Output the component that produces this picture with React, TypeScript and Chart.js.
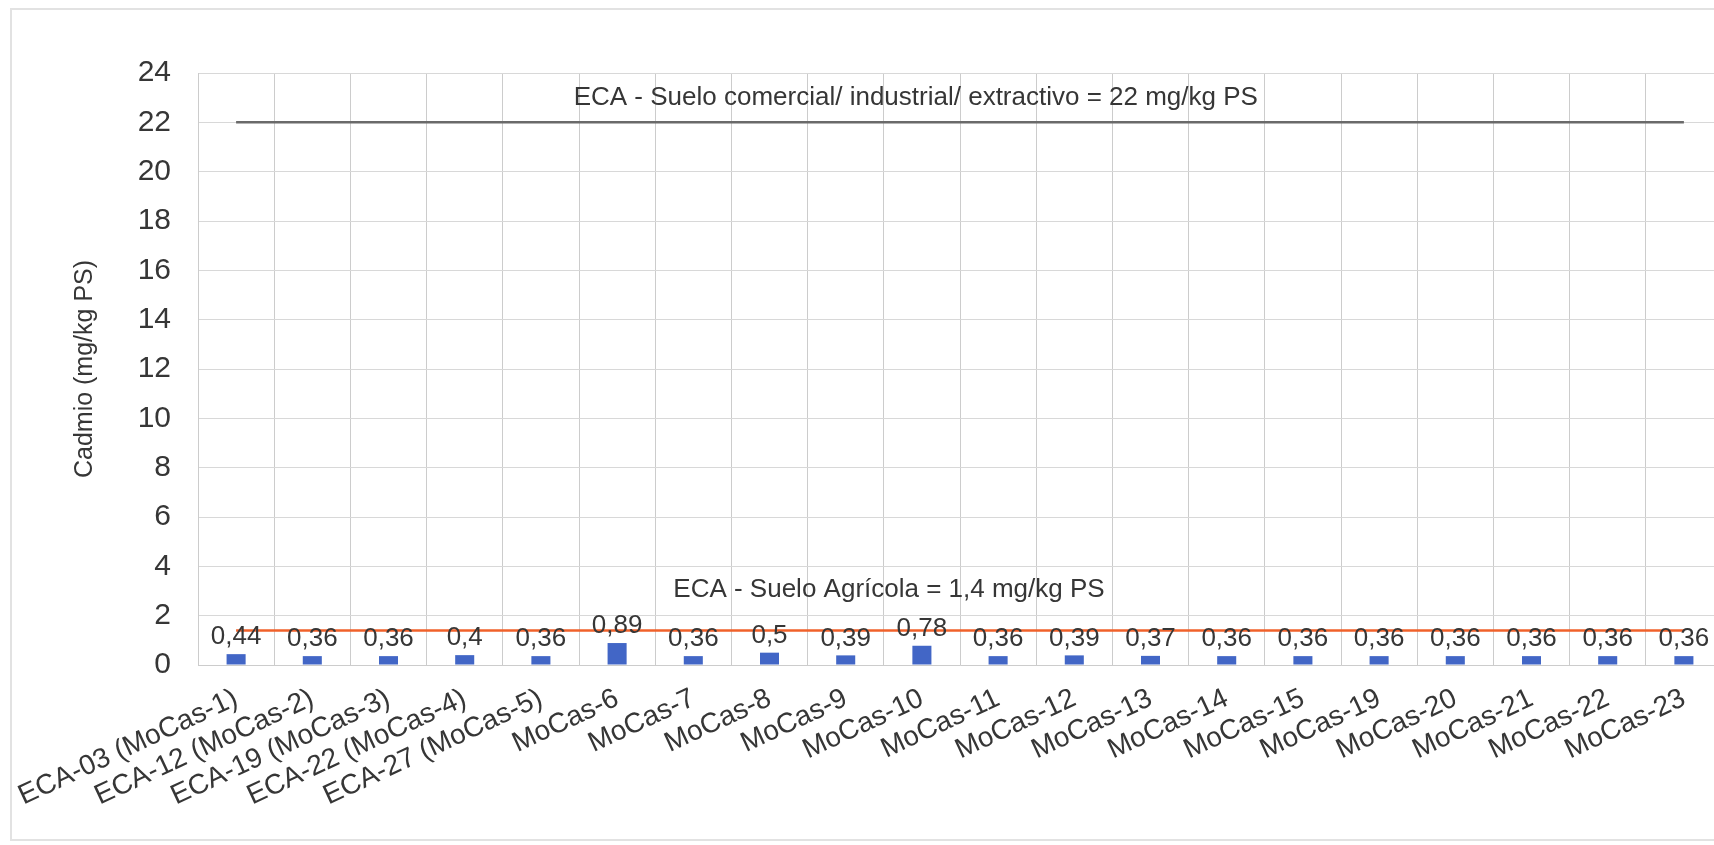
import React, { useEffect, useRef } from "react";
import { Chart, registerables } from "chart.js";

Chart.register(...registerables);

const categories = [
  "ECA-03 (MoCas-1)",
  "ECA-12 (MoCas-2)",
  "ECA-19 (MoCas-3)",
  "ECA-22 (MoCas-4)",
  "ECA-27 (MoCas-5)",
  "MoCas-6",
  "MoCas-7",
  "MoCas-8",
  "MoCas-9",
  "MoCas-10",
  "MoCas-11",
  "MoCas-12",
  "MoCas-13",
  "MoCas-14",
  "MoCas-15",
  "MoCas-19",
  "MoCas-20",
  "MoCas-21",
  "MoCas-22",
  "MoCas-23",
];

const cadmio = [
  0.44, 0.36, 0.36, 0.4, 0.36, 0.89, 0.36, 0.5, 0.39, 0.78, 0.36, 0.39, 0.37,
  0.36, 0.36, 0.36, 0.36, 0.36, 0.36, 0.36,
];

const ecaIndustrial = [
  22, 22, 22, 22, 22, 22, 22, 22, 22, 22, 22, 22, 22, 22, 22, 22, 22, 22, 22, 22,
];

const ecaAgricola = [
  1.4, 1.4, 1.4, 1.4, 1.4, 1.4, 1.4, 1.4, 1.4, 1.4, 1.4, 1.4, 1.4, 1.4, 1.4,
  1.4, 1.4, 1.4, 1.4, 1.4,
];

const yTickValues = [0, 2, 4, 6, 8, 10, 12, 14, 16, 18, 20, 22, 24];

const labelIndustrial = "ECA - Suelo comercial/ industrial/ extractivo = 22 mg/kg PS";
const labelAgricola = "ECA - Suelo Agrícola = 1,4 mg/kg PS";
const yTitle = "Cadmio (mg/kg PS)";

const FONT = "'Liberation Sans', Arial, sans-serif";
const TEXT = "#363636";

const fmt = (v: number) => String(v).replace(".", ",");

const annotationPlugin = {
  id: "annotText",
  afterDatasetsDraw(chart: any) {
    const { ctx, chartArea, scales } = chart;
    const y = scales.y;
    ctx.save();
    ctx.fillStyle = TEXT;
    ctx.font = `26px ${FONT}`;
    ctx.textAlign = "center";
    ctx.textBaseline = "middle";
    // value labels above bars
    const meta = chart.getDatasetMeta(2);
    meta.data.forEach((bar: any, i: number) => {
      ctx.fillText(fmt(cadmio[i]), bar.x, bar.y - 17);
    });
    // reference line captions
    const w = chartArea.right - chartArea.left;
    ctx.fillText(
      labelIndustrial,
      chartArea.left + 0.471 * w,
      y.getPixelForValue(22) - 25
    );
    ctx.fillText(
      labelAgricola,
      chartArea.left + 0.4534 * w,
      y.getPixelForValue(1.4) - 41
    );
    ctx.restore();
  },
};

export default function App() {
  const ref = useRef<HTMLCanvasElement | null>(null);

  useEffect(() => {
    if (!ref.current) return;
    const chart = new Chart(ref.current, {
      type: "bar",
      data: {
        labels: categories,
        datasets: [
          {
            type: "line",
            label: "ECA industrial",
            data: ecaIndustrial,
            borderColor: "#6a6a6a",
            borderWidth: 2.5,
            pointRadius: 0,
            fill: false,
            order: 1,
          },
          {
            type: "line",
            label: "ECA agrícola",
            data: ecaAgricola,
            borderColor: "#f0612a",
            borderWidth: 2.5,
            pointRadius: 0,
            fill: false,
            order: 2,
          },
          {
            type: "bar",
            label: "Cadmio",
            data: cadmio,
            backgroundColor: "#4266c6",
            barPercentage: 0.25,
            categoryPercentage: 1,
            order: 3,
          },
        ],
      },
      options: {
        responsive: false,
        animation: false,
        devicePixelRatio: 1,
        layout: { padding: { top: 73, left: 0, right: 38, bottom: 0 } },
        plugins: {
          legend: { display: false },
          tooltip: { enabled: false },
        },
        scales: {
          x: {
            grid: { color: "#cccccc", drawTicks: false, offset: true },
            border: { color: "#cccccc" },
            ticks: {
              color: TEXT,
              font: { family: FONT, size: 28 },
              minRotation: 25,
              maxRotation: 25,
              padding: 17,
              autoSkip: false,
            },
            afterFit(scale: any) {
              scale.height = 180;
              scale.paddingLeft = 0;
              scale.paddingRight = 0;
            },
          },
          y: {
            min: 0,
            max: 24,
            afterBuildTicks(scale: any) {
              scale.ticks = yTickValues.map((v) => ({ value: v }));
            },
            grid: { color: "#d8d8d8", drawTicks: false },
            border: { color: "#cccccc" },
            ticks: {
              color: TEXT,
              font: { family: FONT, size: 30 },
              padding: 27,
            },
            title: {
              display: true,
              text: yTitle,
              color: TEXT,
              font: { family: FONT, size: 25 },
              padding: { top: 70, bottom: 0 },
            },
            afterFit(scale: any) {
              scale.width = 198;
            },
          },
        },
      },
      plugins: [annotationPlugin],
    });
    return () => chart.destroy();
  }, []);

  return (
    <div
      style={{
        position: "absolute",
        left: 0,
        top: 0,
        width: 1714,
        height: 845,
        overflow: "hidden",
        background: "#ffffff",
      }}
    >
      <div
        style={{
          position: "absolute",
          left: 10,
          top: 8,
          width: 1800,
          height: 833,
          border: "2px solid #e2e2e2",
          boxSizing: "border-box",
        }}
      />
      <canvas
        ref={ref}
        width={1760}
        height={845}
        style={{ position: "absolute", left: 0, top: 0, width: 1760, height: 845 }}
      />
    </div>
  );
}
